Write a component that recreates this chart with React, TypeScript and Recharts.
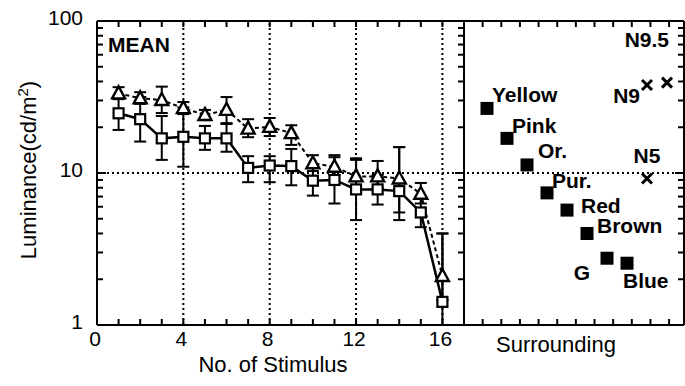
import {
  ComposedChart,
  ErrorBar,
  Line,
  ReferenceLine,
  Scatter,
  ScatterChart,
  XAxis,
  YAxis,
} from "recharts";

const FONT = '"Liberation Sans", Arial, Helvetica, sans-serif';

// stimulus number 1..16, luminance in cd/m2
const stimulusNo = [1, 2, 3, 4, 5, 6, 7, 8, 9, 10, 11, 12, 13, 14, 15, 16];

const squareMean = [24.7, 22.6, 16.9, 17.3, 16.9, 16.9, 10.8, 11.2, 11.1, 8.9, 9.0, 7.8, 7.8, 7.6, 5.5, 1.42];
const squareLow = [19.2, 16.1, 12.2, 11.0, 14.2, 13.8, 8.7, 8.7, 8.3, 7.1, 6.3, 4.9, 6.2, 4.9, 4.4, 1.0];
const squareHigh = [32.0, 31.6, 23.7, 27.0, 20.4, 21.0, 12.9, 12.9, 14.4, 10.8, 12.7, 12.2, 9.7, 14.8, 6.9, 4.0];

const triangleMean = [33.4, 31.0, 30.2, 26.7, 24.1, 26.0, 19.6, 20.1, 18.3, 11.6, 11.0, 9.5, 9.5, 9.2, 7.3, 2.1];
const triangleLow = [30.6, 28.5, 24.8, 24.4, 22.3, 21.3, 17.2, 17.5, 15.3, 10.3, 9.7, 7.5, 7.9, 5.5, 6.3, 1.46];
const triangleHigh = [36.7, 34.0, 37.0, 29.3, 26.0, 31.6, 22.6, 23.0, 20.6, 13.1, 13.1, 12.5, 12.0, 14.8, 8.6, 4.0];

// surrounding colours (filled squares) and neutral greys (crosses)
const colourNames = ["Yellow", "Pink", "Or.", "Pur.", "Red", "Brown", "G", "Blue"];
const colourPos = [1, 2, 3, 4, 5, 6, 7, 8];
const colourLum = [26.6, 16.9, 11.3, 7.4, 5.7, 4.0, 2.75, 2.55];

const neutralNames = ["N5", "N9", "N9.5"];
const neutralPos = [9, 9, 10];
const neutralLum = [9.2, 37.9, 39.3];

const stimulusTicks = [0, 1, 2, 3, 4, 5, 6, 7, 8, 9, 10, 11, 12, 13, 14, 15, 16];
const surroundTicks = [1, 2, 3, 4, 5, 6, 7, 8, 9, 10, 11];
const logTicks = [1, 2, 3, 4, 5, 6, 7, 8, 9, 10, 20, 30, 40, 50, 60, 70, 80, 90, 100];

const rows = stimulusNo.map((n, i) => ({
  n,
  square: squareMean[i],
  squareErr: [squareMean[i] - squareLow[i], squareHigh[i] - squareMean[i]],
  triangle: triangleMean[i],
  triangleErr: [triangleMean[i] - triangleLow[i], triangleHigh[i] - triangleMean[i]],
}));

const colourPoints = colourNames.map((name, i) => ({ name, pos: colourPos[i], lum: colourLum[i] }));
const neutralPoints = neutralNames.map((name, i) => ({ name, pos: neutralPos[i], lum: neutralLum[i] }));

// where each point's name sits relative to its marker
const labelPlace: Record<string, { dx: number; dy: number; anchor: "start" | "middle" | "end" }> = {
  Yellow: { dx: 5, dy: -6, anchor: "start" },
  Pink: { dx: 5, dy: -5, anchor: "start" },
  "Or.": { dx: 11, dy: -7, anchor: "start" },
  "Pur.": { dx: 5, dy: -5, anchor: "start" },
  Red: { dx: 14, dy: 3, anchor: "start" },
  Brown: { dx: 10, dy: 0, anchor: "start" },
  G: { dx: -17, dy: 22, anchor: "end" },
  Blue: { dx: -4, dy: 25, anchor: "start" },
  N5: { dx: 0, dy: -16, anchor: "middle" },
  N9: { dx: -7, dy: 18, anchor: "end" },
  "N9.5": { dx: 2, dy: -36, anchor: "end" },
};

const axisLine = { stroke: "#000", strokeWidth: 2 };
const dotted = { stroke: "#000", strokeWidth: 2, strokeDasharray: "2 3" };
const isDecade = (v: number) => v === 1 || v === 10 || v === 100;

function LeftLogTick(props: any) {
  const { x, y, payload } = props;
  const major = isDecade(payload.value);
  return (
    <g>
      <line x1={x} x2={x + (major ? 9 : 6)} y1={y} y2={y} stroke="#000" strokeWidth={2} />
      {major && (
        <text x={x - 14} y={y + 3.5} textAnchor="end" fontSize={21} fontFamily={FONT} fill="#000">
          {payload.value}
        </text>
      )}
    </g>
  );
}

function RightLogTick(props: any) {
  const { x, y, payload } = props;
  const major = isDecade(payload.value);
  return <line x1={x} x2={x - (major ? 9 : 6)} y1={y} y2={y} stroke="#000" strokeWidth={2} />;
}

function StimulusTick(props: any) {
  const { x, y, payload } = props;
  const v = payload.value;
  return (
    <g>
      <line x1={x} x2={x} y1={y} y2={y - 6} stroke="#000" strokeWidth={2} />
      {v % 4 === 0 && (
        <text x={x - 2} y={y + 21} textAnchor="middle" fontSize={21} fontFamily={FONT} fill="#000">
          {v}
        </text>
      )}
    </g>
  );
}

function UpTick(props: any) {
  const { x, y } = props;
  return <line x1={x} x2={x} y1={y} y2={y - 6} stroke="#000" strokeWidth={2} />;
}

function DownTick(props: any) {
  const { x, y } = props;
  return <line x1={x} x2={x} y1={y} y2={y + 6} stroke="#000" strokeWidth={2} />;
}

function SquareDot(props: any) {
  const { cx, cy } = props;
  if (cx == null || cy == null) return null;
  return <rect x={cx - 5} y={cy - 5} width={10} height={10} fill="#fff" stroke="#000" strokeWidth={2.2} />;
}

function TriangleDot(props: any) {
  const { cx, cy } = props;
  if (cx == null || cy == null) return null;
  return (
    <path
      d={`M${cx},${cy - 7} L${cx + 6.5},${cy + 5} L${cx - 6.5},${cy + 5} Z`}
      fill="#fff"
      stroke="#000"
      strokeWidth={2.4}
    />
  );
}

function NoShape() {
  return <g />;
}

function PointLabel({ cx, cy, name }: { cx: number; cy: number; name: string }) {
  const p = labelPlace[name];
  return (
    <text
      x={cx + p.dx}
      y={cy + p.dy}
      textAnchor={p.anchor}
      fontSize={21}
      fontWeight="bold"
      fontFamily={FONT}
      fill="#000"
    >
      {name}
    </text>
  );
}

function ColourMarker(props: any) {
  const { cx, cy, payload } = props;
  return (
    <g>
      <rect x={cx - 6.5} y={cy - 6.5} width={13} height={13} fill="#000" />
      <PointLabel cx={cx} cy={cy} name={payload.name} />
    </g>
  );
}

function NeutralMarker(props: any) {
  const { cx, cy, payload } = props;
  return (
    <g>
      <path
        d={`M${cx - 5},${cy - 5} L${cx + 5},${cy + 5} M${cx + 5},${cy - 5} L${cx - 5},${cy + 5}`}
        stroke="#000"
        strokeWidth={3}
      />
      <PointLabel cx={cx} cy={cy} name={payload.name} />
    </g>
  );
}

const tickOnly = {
  interval: 0 as const,
  allowDataOverflow: true,
  tickSize: 0,
  tickMargin: 0,
  tickLine: false,
  axisLine,
};

export default function App() {
  return (
    <div style={{ position: "absolute", left: 0, top: 0, width: 685, height: 386, background: "#fff" }}>
      <div style={{ position: "absolute", left: 0, top: 0 }}>
        <ComposedChart width={470} height={386} data={rows} margin={{ top: 20, right: 5, bottom: 0, left: 0 }}>
          <XAxis
            xAxisId="b"
            dataKey="n"
            type="number"
            domain={[0, 17]}
            ticks={stimulusTicks}
            height={61}
            tick={StimulusTick}
            {...tickOnly}
          />
          <XAxis
            xAxisId="t"
            dataKey="n"
            orientation="top"
            type="number"
            domain={[0, 17]}
            ticks={stimulusTicks}
            height={1}
            tick={DownTick}
            {...tickOnly}
          />
          <YAxis
            yAxisId="l"
            type="number"
            scale="log"
            domain={[1, 100]}
            ticks={logTicks}
            width={97}
            tick={LeftLogTick}
            {...tickOnly}
          />
          <YAxis
            yAxisId="r"
            orientation="right"
            type="number"
            scale="log"
            domain={[1, 100]}
            ticks={logTicks}
            width={1}
            tick={RightLogTick}
            {...tickOnly}
          />
          {[4, 8, 12, 16].map((v) => (
            <ReferenceLine key={v} xAxisId="b" yAxisId="l" x={v} {...dotted} />
          ))}
          <ReferenceLine xAxisId="b" yAxisId="l" y={10} {...dotted} />
          {/* invisible series that binds the top and right frame axes */}
          <Line
            xAxisId="t"
            yAxisId="r"
            dataKey="square"
            stroke="none"
            dot={false}
            activeDot={false}
            isAnimationActive={false}
          />
          <Line
            xAxisId="b"
            yAxisId="l"
            dataKey="triangle"
            stroke="#000"
            strokeWidth={2}
            strokeDasharray="4 3"
            dot={TriangleDot}
            activeDot={false}
            isAnimationActive={false}
          >
            <ErrorBar dataKey="triangleErr" width={6} stroke="#000" strokeWidth={2} />
          </Line>
          <Line
            xAxisId="b"
            yAxisId="l"
            dataKey="square"
            stroke="#000"
            strokeWidth={2.5}
            dot={SquareDot}
            activeDot={false}
            isAnimationActive={false}
          >
            <ErrorBar dataKey="squareErr" width={6} stroke="#000" strokeWidth={2} />
          </Line>
          <text x={108} y={52} fontSize={21} fontWeight="bold" fontFamily={FONT} fill="#000">
            MEAN
          </text>
          <text
            x={36}
            y={170}
            transform="rotate(-90 36 170)"
            textAnchor="middle"
            fontSize={22}
            fontFamily={FONT}
            fill="#000"
          >
            Luminance(cd/m
            <tspan dy={-8} fontSize={15}>
              2
            </tspan>
            <tspan dy={8}>)</tspan>
          </text>
          <text x={273} y={372} textAnchor="middle" fontSize={22} fontFamily={FONT} fill="#000">
            No. of Stimulus
          </text>
        </ComposedChart>
      </div>
      <div style={{ position: "absolute", left: 464, top: 0 }}>
        <ScatterChart width={221} height={386} margin={{ top: 20, right: 0, bottom: 0, left: 0 }}>
          <XAxis xAxisId="p" dataKey="pos" type="number" domain={[-0.15, 10.85]} allowDataOverflow hide />
          <XAxis
            xAxisId="b"
            dataKey="pos"
            type="number"
            domain={[0, 11.8]}
            ticks={surroundTicks}
            height={61}
            tick={UpTick}
            {...tickOnly}
          />
          <XAxis
            xAxisId="t"
            dataKey="pos"
            orientation="top"
            type="number"
            domain={[0, 11.8]}
            ticks={surroundTicks}
            height={1}
            tick={DownTick}
            {...tickOnly}
          />
          <YAxis
            yAxisId="r"
            orientation="right"
            dataKey="lum"
            type="number"
            scale="log"
            domain={[1, 100]}
            ticks={logTicks}
            width={1}
            tick={RightLogTick}
            {...tickOnly}
          />
          <ReferenceLine xAxisId="p" yAxisId="r" y={10} {...dotted} />
          {/* invisible series that bind the tick-only frame axes */}
          <Scatter xAxisId="b" yAxisId="r" data={colourPoints} dataKey="lum" shape={NoShape} isAnimationActive={false} />
          <Scatter xAxisId="t" yAxisId="r" data={colourPoints} dataKey="lum" shape={NoShape} isAnimationActive={false} />
          <Scatter
            xAxisId="p"
            yAxisId="r"
            data={colourPoints}
            dataKey="lum"
            shape={ColourMarker}
            isAnimationActive={false}
          />
          <Scatter
            xAxisId="p"
            yAxisId="r"
            data={neutralPoints}
            dataKey="lum"
            shape={NeutralMarker}
            isAnimationActive={false}
          />
          <text x={92} y={352} textAnchor="middle" fontSize={22} fontFamily={FONT} fill="#000">
            Surrounding
          </text>
        </ScatterChart>
      </div>
    </div>
  );
}
